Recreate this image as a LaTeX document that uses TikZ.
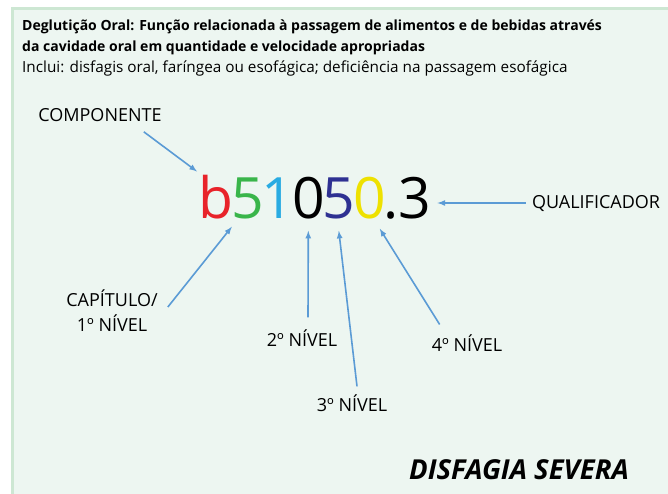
\documentclass[tikz,border=0pt]{standalone}
\usepackage{fontspec}
\setmainfont{Open Sans}
\usetikzlibrary{positioning}

\definecolor{boxfill}{HTML}{EDF6F1}
\definecolor{boxline}{HTML}{CDE7D3}
\definecolor{arrowblue}{HTML}{5B9BD5}
\definecolor{cred}{HTML}{E8232A}
\definecolor{cgreen}{HTML}{39B54A}
\definecolor{clight}{HTML}{29ABE2}
\definecolor{cnavy}{HTML}{2E3192}
\definecolor{cyellow}{HTML}{EEE100}

\tikzset{
	code/.style = {font = \fontsize{57}{57}\selectfont, inner sep = 0pt, anchor = base west},
	label/.style = {font = \fontsize{18}{25}\selectfont, inner sep = 2pt, align = center},
	heading/.style = {anchor = base west, inner sep = 0pt, font = \fontsize{15.3}{21}\selectfont},
	pointer/.style = {->, arrowblue, line width = 1.6pt}
}

\begin{document}
\begin{tikzpicture}[> = latex, x = 1pt, y = -1pt]

	\useasboundingbox (0, 0) rectangle (668, 493);

	% Frame

	\draw [line width = 3pt, draw = boxline, fill = boxfill] (12, 8) rectangle (674, 499);

	% Heading

	\node [heading, font = \fontsize{14}{21}\selectfont\bfseries] (head1) at (22, 30) {Deglutição Oral: Função relacionada à passagem de alimentos e de bebidas através};
	\node [heading, font = \fontsize{14}{21}\selectfont\bfseries] (head2) at (22, 51) {da cavidade oral em quantidade e velocidade apropriadas};
	\node [heading] (head3) at (22, 72) {Inclui: disfagis oral, faríngea ou esofágica; deficiência na passagem esofágica};

	% Code

	\node [code, text = cred] (cb) at (198, 218) {b};
	\node [code, text = cgreen] (c5) at ([xshift = -2.5pt] cb.base east) {5};
	\node [code, text = clight] (c1) at ([xshift = -2.5pt] c5.base east) {1};
	\node [code] (c0) at ([xshift = -2.5pt] c1.base east) {0};
	\node [code, text = cnavy] (c5b) at ([xshift = -2.5pt] c0.base east) {5};
	\node [code, text = cyellow] (c0b) at ([xshift = -2.5pt] c5b.base east) {0};
	\node [code] (c3) at ([xshift = -2.5pt] c0b.base east) {.3};

	% Labels

	\node [label] (comp) at (100, 115) {COMPONENTE};
	\node [label] (cap) at (112, 311) {CAPÍTULO/\\1º NÍVEL};
	\node [label] (n2) at (302, 338) {2º NÍVEL};
	\node [label] (n3) at (352, 403) {3º NÍVEL};
	\node [label] (n4) at (467, 343) {4º NÍVEL};
	\node [label] (qual) at (596, 203) {QUALIFICADOR};

	\node [font = \fontsize{27.5}{27.5}\selectfont\bfseries\itshape] (disf) at (519, 470) {DISFAGIA SEVERA};

	% Pointers

	\draw [pointer] ([shift = {(-20, 8)}] comp.south east) -- ([shift = {(-1, -3)}] cb.north west);
	\draw [pointer] ([shift = {(8, -4)}] cap.east) -- ([shift = {(1, 8)}] c5.south west);
	\draw [pointer] ([shift = {(6, -10)}] n2.north) -- ([shift = {(0, 12)}] c0.south);
	\draw [pointer] ([shift = {(5, -6)}] n3.north) -- ([shift = {(0, 12)}] c5b.south);
	\draw [pointer] ([shift = {(10, -8)}] n4.north west) -- ([shift = {(-6, 10)}] c0b.south east);
	\draw [pointer] ([shift = {(-4, 0)}] qual.west) -- ([shift = {(6, -15)}] c3.base east);

\end{tikzpicture}
\end{document}
